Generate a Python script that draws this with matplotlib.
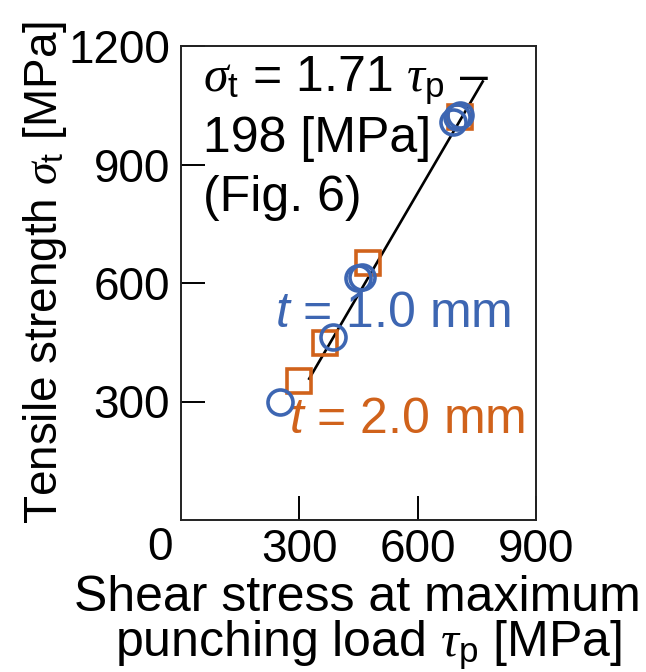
import numpy as np
import matplotlib
matplotlib.use("Agg")
import matplotlib.pyplot as plt

plt.rcParams['font.family'] = ['Liberation Sans', 'DejaVu Sans']
plt.rcParams['mathtext.fontset'] = 'custom'
plt.rcParams['mathtext.rm'] = 'Liberation Sans'
plt.rcParams['mathtext.it'] = 'Liberation Serif:italic'
plt.rcParams['mathtext.sf'] = 'Liberation Sans:italic'

# punching shear stress vs tensile strength, two sheet thicknesses
tau_1mm = [251, 385, 449, 458, 690, 699, 707]
sig_1mm = [300, 464, 613, 616, 1008, 1020, 1025]
tau_2mm = [300, 365, 473, 707]
sig_2mm = [351, 449, 650, 1019]

# fitted line sigma_t = 1.71 tau_p - 198
slope, intercept = 1.71, -198
fit_range = [325, 765]

x_ticks = [300, 600, 900]
y_ticks = [300, 600, 900, 1200]

blue = '#3D66B2'
orange = '#D0621B'
fs_tick = 33
fs = 36

fig = plt.figure(figsize=(6.46, 6.72), dpi=100)
ax = fig.add_axes([181/646, 1 - 520/672, 355/646, 474/672])

tf = np.array(fit_range)
ax.plot(tf, slope * tf + intercept, color='black', lw=1.9, zorder=2)
ax.plot(tau_2mm, sig_2mm, ls='none', marker='s', ms=17, mfc='none',
        mec=orange, mew=2.6, zorder=3)
ax.plot(tau_1mm, sig_1mm, ls='none', marker='o', ms=18, mfc='none',
        mec=blue, mew=2.6, zorder=4)

ax.set_xlim(0, 900)
ax.set_ylim(0, 1200)
ax.set_xticks(x_ticks)
ax.set_yticks(y_ticks)
ax.set_xticklabels([str(v) for v in x_ticks])
ax.set_yticklabels([str(v) for v in y_ticks])
ax.tick_params(direction='in', length=17, width=1.4, labelsize=fs_tick, pad=8)
ax.tick_params(axis='x', pad=6)
for s in ax.spines.values():
    s.set_linewidth(1.4)
    s.set_color('#222222')

# shared origin label
fig.text(160/646, 1 - 548/672, '0', fontsize=fs_tick, ha='center', va='center')

# equation of the fitted line
ax.text(56, 1085, r'$\sigma_{\mathrm{t}}$ = 1.71 $\tau_{\mathrm{p}}$ –', fontsize=fs,
        ha='left', va='baseline')
ax.text(56, 932, '198 [MPa]', fontsize=fs, ha='left', va='baseline')
ax.text(56, 782, '(Fig. 6)', fontsize=fs, ha='left', va='baseline')

ax.text(238, 488, r'$\mathsf{t}$ = 1.0 mm', fontsize=fs, color=blue,
        ha='left', va='baseline')
ax.text(275, 220, r'$\mathsf{t}$ = 2.0 mm', fontsize=fs, color=orange,
        ha='left', va='baseline')

fig.text(45/646, 1 - 273/672, r'Tensile strength $\sigma_{\mathrm{t}}$ [MPa]',
         fontsize=fs_tick, rotation=90, ha='center', va='center')
fig.text(357/646, 1 - 598/672, 'Shear stress at maximum', fontsize=fs,
         ha='center', va='center')
fig.text(368/646, 1 - 645/672, r'punching load $\tau_{\mathrm{p}}$ [MPa]',
         fontsize=fs, ha='center', va='center')

fig.savefig('out.png', dpi=100)
